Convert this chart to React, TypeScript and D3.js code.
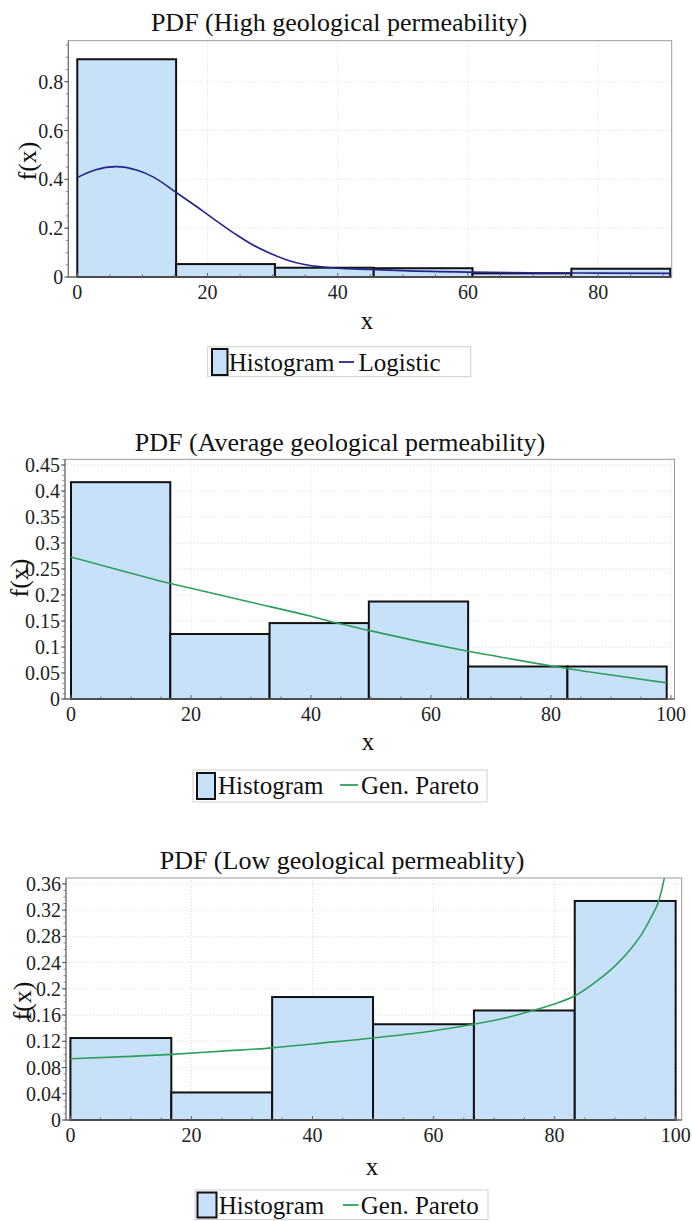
import React from 'react';
import * as d3 from 'd3';

const FONT = '"Liberation Serif", "Times New Roman", serif';
const BAR_FILL = '#c7e1f9';

// ---------- Panel 1: High geological permeability ----------
const highBinEdges = [0, 15.18, 30.36, 45.53, 60.71, 75.89, 91.07];
const highHeights = [0.892, 0.053, 0.038, 0.036, 0.015, 0.034];
const highCurveX = [0, 2.7, 6, 9.1, 11.7, 15.25, 19.4, 21.9, 24.5, 27, 29.6, 32.2, 34.7, 37.3, 40, 45, 50, 60, 70, 80, 91.07];
const highCurveY = [0.407, 0.438, 0.452, 0.438, 0.409, 0.345, 0.268, 0.22, 0.172, 0.131, 0.097, 0.07, 0.052, 0.042, 0.036, 0.031, 0.026, 0.02, 0.017, 0.016, 0.015];
const highYTicks = [0, 0.2, 0.4, 0.6, 0.8];
const highXTicks = [0, 20, 40, 60, 80];

// ---------- Panel 2: Average geological permeability ----------
const avgBinEdges = [0, 16.55, 33.1, 49.65, 66.2, 82.75, 99.3];
const avgHeights = [0.417, 0.125, 0.146, 0.1875, 0.0625, 0.0625];
const avgCurveX = [0, 10, 16.55, 20, 30, 40, 44, 49.65, 60, 66.2, 70, 80.6, 90, 99.3];
const avgCurveY = [0.273, 0.242, 0.222, 0.213, 0.186, 0.159, 0.147, 0.132, 0.106, 0.092, 0.084, 0.0625, 0.046, 0.031];
const avgYTicks = [0, 0.05, 0.1, 0.15, 0.2, 0.25, 0.3, 0.35, 0.4, 0.45];
const avgXTicks = [0, 20, 40, 60, 80, 100];

// ---------- Panel 3: Low geological permeablity ----------
const lowBinEdges = [0, 16.67, 33.33, 50, 66.67, 83.33, 100];
const lowHeights = [0.125, 0.042, 0.1875, 0.146, 0.167, 0.334];
const lowCurveX = [0, 10, 16.7, 25, 33.4, 40, 50, 60, 66.6, 72, 76.4, 80, 83.3, 87, 90.2, 92.5, 94.5, 96, 97.2, 98.1, 98.8];
const lowCurveY = [0.0935, 0.097, 0.1, 0.105, 0.11, 0.116, 0.125, 0.136, 0.146, 0.156, 0.167, 0.177, 0.189, 0.212, 0.237, 0.26, 0.285, 0.31, 0.334, 0.3676, 0.41];
const lowYTicks = [0, 0.04, 0.08, 0.12, 0.16, 0.2, 0.24, 0.28, 0.32, 0.36];
const lowXTicks = [0, 20, 40, 60, 80, 100];

type Cfg = {
  id: string;
  title: string;
  titleX: number;
  titleY: number;
  left: number;
  right: number;
  top: number;
  bottom: number;
  xDomain: [number, number];
  yDomain: [number, number];
  edges: number[];
  heights: number[];
  curveX: number[];
  curveY: number[];
  curveColor: string;
  yTicks: number[];
  xTicks: number[];
  yMinor: number;
  xLabelX: number;
  xLabelY: number;
  yLabelX: number;
  yLabelY: number;
  legend: {
    x0: number; x1: number; y0: number; y1: number;
    swX0: number; swX1: number; swY0: number; swY1: number;
    t1X: number; lineX0: number; lineX1: number; t2X: number; baseY: number;
    name: string;
  };
};

function Panel({ c }: { c: Cfg }) {
  const x = d3.scaleLinear().domain(c.xDomain).range([c.left, c.right]);
  const y = d3.scaleLinear().domain(c.yDomain).range([c.bottom, c.top]);
  const pts: [number, number][] = c.curveX.map((v, i) => [v, c.curveY[i]]);
  const line = d3
    .line<[number, number]>()
    .x((d) => x(d[0]))
    .y((d) => y(d[1]))
    .curve(d3.curveMonotoneX);
  const xMinor = d3.range(0, c.xDomain[1] + 1e-6, 5);
  const yMinor = d3.range(0, c.yDomain[1] + 1e-9, c.yMinor);
  const fmt = (v: number) => (v === 0 ? '0' : String(+v.toFixed(2)));
  const L = c.legend;
  return (
    <g>
      <defs>
        <clipPath id={`clip-${c.id}`}>
          <rect x={c.left} y={c.top} width={c.right - c.left} height={c.bottom - c.top} />
        </clipPath>
      </defs>
      <text x={c.titleX} y={c.titleY} textAnchor="middle" dominantBaseline="central" fontSize={26} fontFamily={FONT} fill="#111">
        {c.title}
      </text>
      <rect x={c.left} y={c.top} width={c.right - c.left} height={c.bottom - c.top} fill="#fff" />
      {/* grid */}
      {c.xTicks.filter((t) => t > 0).map((t) => (
        <line key={`gx${t}`} x1={x(t)} x2={x(t)} y1={c.top} y2={c.bottom} stroke="#dcdcdc" strokeWidth={1} strokeDasharray="1,2" />
      ))}
      {c.yTicks.filter((t) => t > 0).map((t) => (
        <line key={`gy${t}`} x1={c.left} x2={c.right} y1={y(t)} y2={y(t)} stroke="#dcdcdc" strokeWidth={1} strokeDasharray="1,2" />
      ))}
      {/* bars */}
      {c.heights.map((h, i) => (
        <rect
          key={`b${i}`}
          x={x(c.edges[i])}
          y={y(h)}
          width={x(c.edges[i + 1]) - x(c.edges[i])}
          height={y(0) - y(h)}
          fill={BAR_FILL}
          stroke="#111"
          strokeWidth={2}
        />
      ))}
      {/* curve */}
      <path d={line(pts) || ''} fill="none" stroke={c.curveColor} strokeWidth={1.6} clipPath={`url(#clip-${c.id})`} />
      {/* frame */}
      <rect x={c.left} y={c.top} width={c.right - c.left} height={c.bottom - c.top} fill="none" stroke="#999" strokeWidth={1} />
      <line x1={c.left} x2={c.left} y1={c.top} y2={c.bottom} stroke="#666" strokeWidth={1} />
      <line x1={c.left} x2={c.right} y1={c.bottom} y2={c.bottom} stroke="#444" strokeWidth={1.2} />
      {/* minor ticks */}
      {xMinor.map((t) => (
        <line key={`mx${t}`} x1={x(t)} x2={x(t)} y1={c.bottom} y2={c.bottom - (t % 20 === 0 ? 4 : 2.5)} stroke="#666" strokeWidth={1} />
      ))}
      {yMinor.map((t, i) => (
        <line key={`my${i}`} x1={c.left} x2={c.left - 2.5} y1={y(t)} y2={y(t)} stroke="#888" strokeWidth={1} />
      ))}
      {c.yTicks.map((t) => (
        <line key={`My${t}`} x1={c.left} x2={c.left - 4} y1={y(t)} y2={y(t)} stroke="#555" strokeWidth={1} />
      ))}
      {/* tick labels */}
      {c.yTicks.map((t) => (
        <text key={`ly${t}`} x={c.left - 5} y={y(t)} textAnchor="end" dominantBaseline="central" fontSize={20} fontFamily={FONT} fill="#222">
          {fmt(t)}
        </text>
      ))}
      {c.xTicks.map((t) => (
        <text key={`lx${t}`} x={x(t)} y={c.bottom + 15} textAnchor="middle" dominantBaseline="central" fontSize={20} fontFamily={FONT} fill="#222">
          {t}
        </text>
      ))}
      {/* axis labels */}
      <text x={c.xLabelX} y={c.xLabelY} textAnchor="middle" dominantBaseline="central" fontSize={25} fontFamily={FONT} fill="#111">
        x
      </text>
      <text
        transform={`translate(${c.yLabelX},${c.yLabelY}) rotate(-90)`}
        textAnchor="middle"
        dominantBaseline="central"
        fontSize={26}
        fontFamily={FONT}
        fill="#111"
      >
        f(x)
      </text>
      {/* legend */}
      <rect x={L.x0} y={L.y0} width={L.x1 - L.x0} height={L.y1 - L.y0} fill="#fff" stroke="#cfcfcf" strokeWidth={1} />
      <rect x={L.swX0} y={L.swY0} width={L.swX1 - L.swX0} height={L.swY1 - L.swY0} fill={BAR_FILL} stroke="#111" strokeWidth={2} />
      <text x={L.t1X} y={L.baseY} fontSize={25} fontFamily={FONT} fill="#111">
        Histogram
      </text>
      <line x1={L.lineX0} x2={L.lineX1} y1={L.baseY - 9} y2={L.baseY - 9} stroke={c.curveColor} strokeWidth={1.8} />
      <text x={L.t2X} y={L.baseY} fontSize={25} fontFamily={FONT} fill="#111">
        {L.name}
      </text>
    </g>
  );
}

const panels: Cfg[] = [
  {
    id: 'high',
    title: 'PDF (High geological permeability)',
    titleX: 339,
    titleY: 22,
    left: 68.3,
    right: 671.7,
    top: 40.7,
    bottom: 277,
    xDomain: [-1.38, 91.3],
    yDomain: [0, 0.968],
    edges: highBinEdges,
    heights: highHeights,
    curveX: highCurveX,
    curveY: highCurveY,
    curveColor: '#24248c',
    yTicks: highYTicks,
    xTicks: highXTicks,
    yMinor: 0.05,
    xLabelX: 367,
    xLabelY: 320,
    yLabelX: 27,
    yLabelY: 161,
    legend: {
      x0: 207.7, x1: 470.7, y0: 346.7, y1: 376.7,
      swX0: 212, swX1: 227.5, swY0: 349, swY1: 375,
      t1X: 228.8, lineX0: 339, lineX1: 354, t2X: 358.6, baseY: 371,
      name: 'Logistic',
    },
  },
  {
    id: 'avg',
    title: 'PDF (Average geological permeability)',
    titleX: 340,
    titleY: 442,
    left: 65,
    right: 674.5,
    top: 459.3,
    bottom: 699,
    xDomain: [-1.0, 100.6],
    yDomain: [0, 0.461],
    edges: avgBinEdges,
    heights: avgHeights,
    curveX: avgCurveX,
    curveY: avgCurveY,
    curveColor: '#2f9e5c',
    yTicks: avgYTicks,
    xTicks: avgXTicks,
    yMinor: 0.01,
    xLabelX: 368,
    xLabelY: 741,
    yLabelX: 19,
    yLabelY: 578,
    legend: {
      x0: 193, x1: 487, y0: 770, y1: 802,
      swX0: 197, swX1: 215, swY0: 773, swY1: 799,
      t1X: 218, lineX0: 340, lineX1: 358, t2X: 361, baseY: 794,
      name: 'Gen. Pareto',
    },
  },
  {
    id: 'low',
    title: 'PDF (Low geological permeablity)',
    titleX: 342,
    titleY: 860,
    left: 66,
    right: 681.7,
    top: 878,
    bottom: 1120,
    xDomain: [-0.73, 101],
    yDomain: [0, 0.369],
    edges: lowBinEdges,
    heights: lowHeights,
    curveX: lowCurveX,
    curveY: lowCurveY,
    curveColor: '#2f9e5c',
    yTicks: lowYTicks,
    xTicks: lowXTicks,
    yMinor: 0.01,
    xLabelX: 372,
    xLabelY: 1166,
    yLabelX: 22,
    yLabelY: 1001,
    legend: {
      x0: 195, x1: 488, y0: 1190, y1: 1219.5,
      swX0: 197.5, swX1: 216.5, swY0: 1192.5, swY1: 1217.5,
      t1X: 218.7, lineX0: 343, lineX1: 358.6, t2X: 360.8, baseY: 1214,
      name: 'Gen. Pareto',
    },
  },
];

export default function App() {
  return (
    <svg
      width={692}
      height={1221}
      viewBox="0 0 692 1221"
      style={{ position: 'absolute', left: 0, top: 0, background: '#fff' }}
    >
      <rect x={0} y={0} width={692} height={1221} fill="#fff" />
      {panels.map((p) => (
        <Panel key={p.id} c={p} />
      ))}
    </svg>
  );
}
